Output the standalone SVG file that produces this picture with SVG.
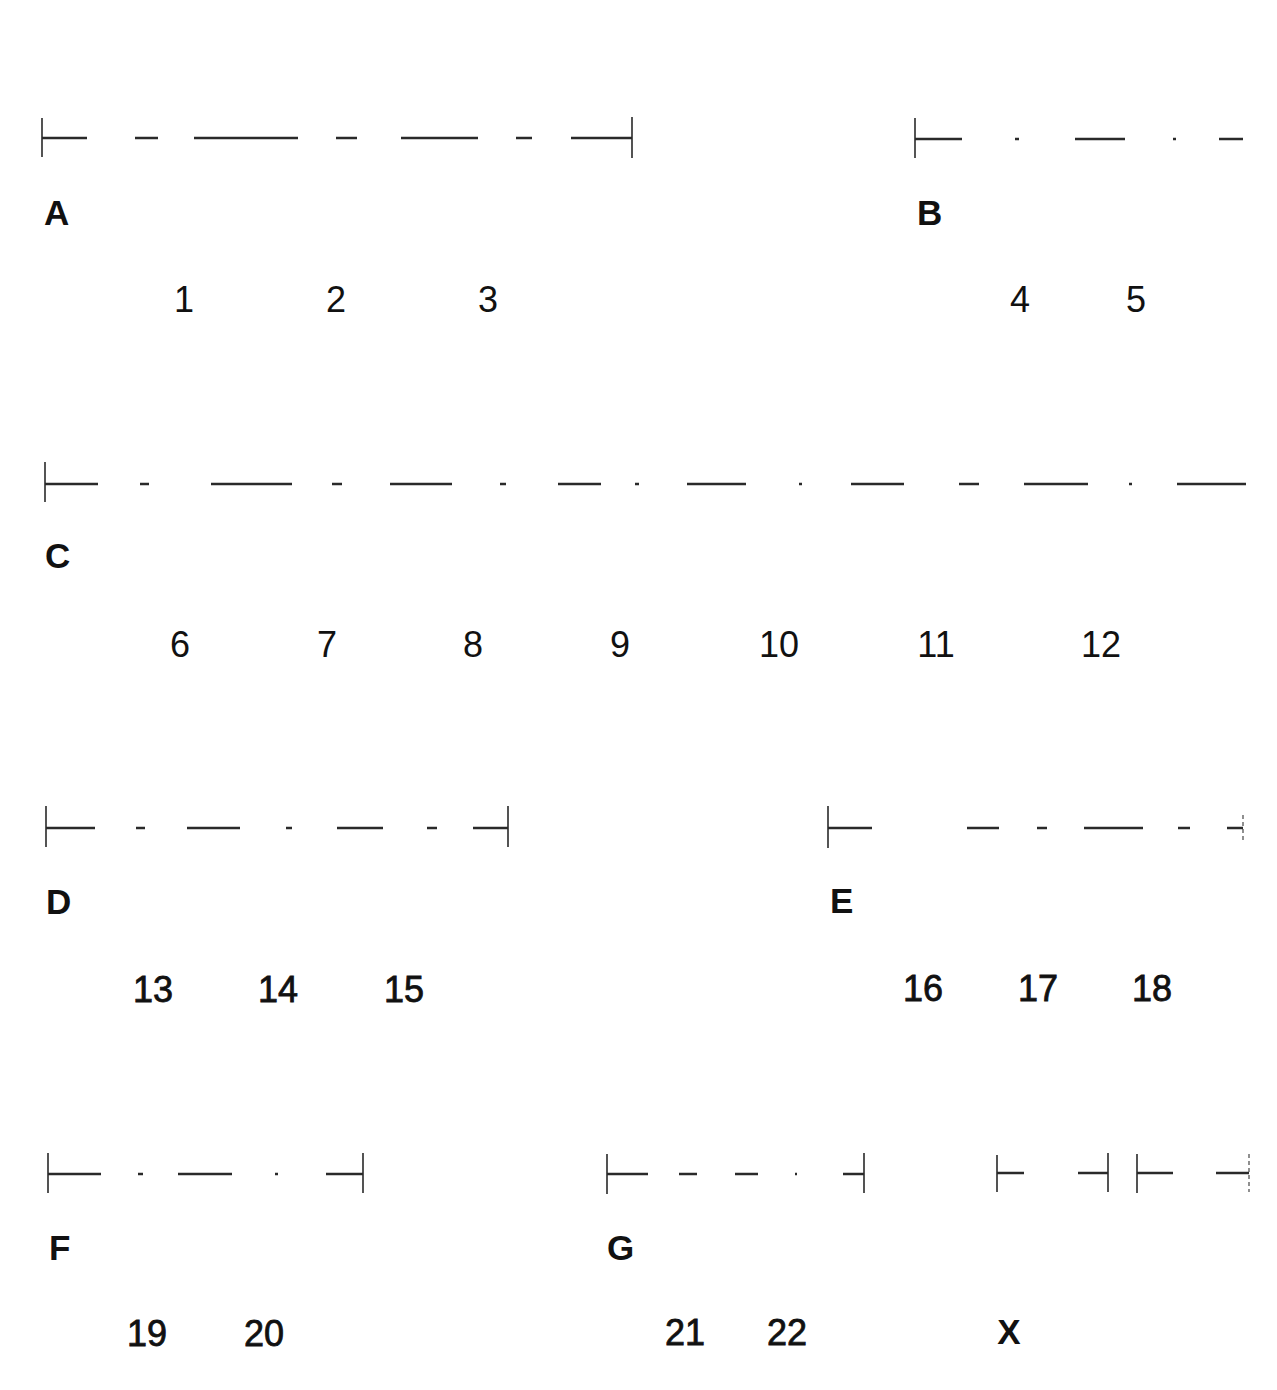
<svg xmlns="http://www.w3.org/2000/svg" width="1277" height="1390" viewBox="0 0 1277 1390">
<style>
.seg{stroke:#2a2a2a;stroke-width:2.6;fill:none;stroke-linecap:butt}
.tick{stroke:#2a2a2a;stroke-width:1.6;fill:none}
.faint{stroke:#555;stroke-width:1.3;fill:none;stroke-dasharray:4 3}
.let{font-family:"Liberation Sans",Arial,sans-serif;font-weight:bold;font-size:35px;fill:#111}
.num{font-family:"Liberation Sans",Arial,sans-serif;font-size:36px;fill:#111;text-anchor:middle}
.numb{font-family:"Liberation Sans",Arial,sans-serif;font-size:36px;fill:#111;text-anchor:middle;stroke:#111;stroke-width:0.8}
</style>
<rect width="1277" height="1390" fill="#fff"/>
<g id="rowA">
<path class="tick" d="M42 118V157M632 117V158"/>
<path class="seg" d="M42 138H87M135 138H158M194 138H298M336 138H357M401 138H478M516 138H532M571 138H632"/>
<text class="let" x="44" y="225">A</text>
<text class="num" x="184" y="312">1</text>
<text class="num" x="336" y="312">2</text>
<text class="num" x="488" y="312">3</text>
</g>
<g id="rowB">
<path class="tick" d="M915 118V158"/>
<path class="seg" d="M915 139H962M1015 139H1019M1075 139H1125M1173 139H1176M1219 139H1243"/>
<text class="let" x="917" y="225">B</text>
<text class="num" x="1020" y="312">4</text>
<text class="num" x="1136" y="312">5</text>
</g>
<g id="rowC">
<path class="tick" d="M45 462V502"/>
<path class="seg" d="M45 484H98M140 484H149M211 484H292M332 484H342M390 484H452M500 484H506M558 484H601M635 484H639M687 484H746M799 484H802M851 484H904M959 484H979M1024 484H1088M1129 484H1132M1177 484H1246"/>
<text class="let" x="45" y="568">C</text>
<text class="num" x="180" y="657">6</text>
<text class="num" x="327" y="657">7</text>
<text class="num" x="473" y="657">8</text>
<text class="num" x="620" y="657">9</text>
<text class="num" x="779" y="657">10</text>
<text class="num" x="936" y="657">11</text>
<text class="num" x="1101" y="657">12</text>
</g>
<g id="rowD">
<path class="tick" d="M46 806V847M508 806V847"/>
<path class="seg" d="M46 828H95M136 828H145M187 828H240M286 828H292M337 828H383M427 828H437M473 828H508"/>
<text class="let" x="46" y="914">D</text>
<text class="numb" x="153" y="1002">13</text>
<text class="numb" x="278" y="1002">14</text>
<text class="numb" x="404" y="1002">15</text>
</g>
<g id="rowE">
<path class="tick" d="M828 806V848"/>
<path class="faint" d="M1243 815V842"/>
<path class="seg" d="M828 828H872M967 828H999M1037 828H1047M1084 828H1143M1178 828H1190M1227 828H1243"/>
<text class="let" x="830" y="913">E</text>
<text class="numb" x="923" y="1001">16</text>
<text class="numb" x="1038" y="1001">17</text>
<text class="numb" x="1152" y="1001">18</text>
</g>
<g id="rowF">
<path class="tick" d="M48 1153V1193M363 1153V1193"/>
<path class="seg" d="M48 1174H101M138 1174H143M178 1174H232M275 1174H278M326 1174H363"/>
<text class="let" x="49" y="1260">F</text>
<text class="numb" x="147" y="1346">19</text>
<text class="numb" x="264" y="1346">20</text>
</g>
<g id="rowG">
<path class="tick" d="M607 1154V1194M864 1153V1193"/>
<path class="seg" d="M607 1174H648M679 1174H697M735 1174H758M795 1174H797M843 1174H864"/>
<text class="let" x="607" y="1260">G</text>
<text class="numb" x="685" y="1345">21</text>
<text class="numb" x="787" y="1345">22</text>
</g>
<g id="rowX">
<path class="tick" d="M997 1155V1192M1108 1153V1192M1137 1154V1193"/>
<path class="faint" d="M1249 1154V1192"/>
<path class="seg" d="M997 1173H1024M1078 1173H1108M1137 1173H1173M1216 1173H1249"/>
<text class="let" x="1009" y="1344" text-anchor="middle">X</text>
</g>
</svg>
